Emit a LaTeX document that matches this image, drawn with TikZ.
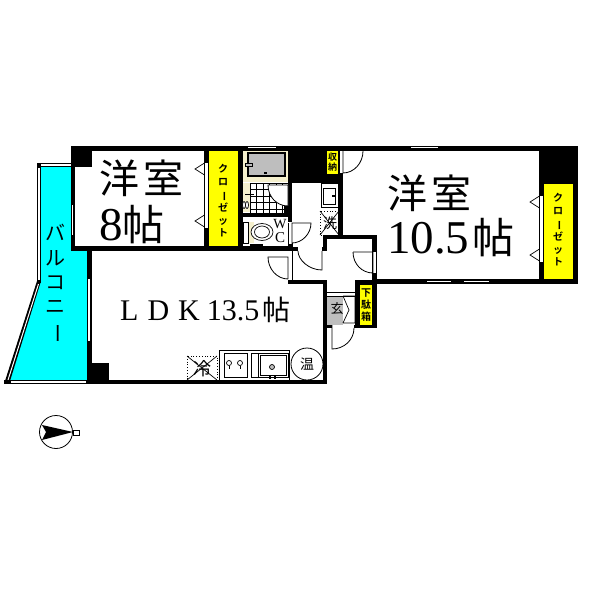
\documentclass[tikz,border=0pt]{standalone}
\usepackage{fontspec}
\setmainfont{Liberation Serif}
\newfontfamily\jpfont{Noto Sans CJK JP}
\newfontfamily\jpbold{Noto Sans CJK JP Bold}
\definecolor{balcony}{RGB}{0,255,255}
\definecolor{closet}{RGB}{255,255,0}
\definecolor{cream}{RGB}{245,240,205}
\definecolor{floorgray}{RGB}{190,190,190}
\tikzset{
	wall/.style={fill=black,draw=none},
	slit/.style={fill=white,draw=none},
	doorline/.style={line width=0.8},
	thin line/.style={line width=0.7},
	bigtext/.style={font=\jpfont\fontsize{40}{40}\selectfont,inner sep=0},
	smalltext/.style={font=\jpbold\fontsize{9}{10}\selectfont,align=center,inner sep=0},
}
\newcommand{\tatebar}{\rotatebox[origin=c]{-90}{ー}}
\begin{document}
\begin{tikzpicture}[x=1pt,y=-1pt]
	\useasboundingbox (0,0) rectangle (600,600);
	\fill[white] (0,0) rectangle (600,600);
	% balcony
	\fill[balcony] (41,167) -- (71,167) -- (71,246) -- (87,246) -- (87,380) -- (10,380) -- (40,282) -- cycle;
	\fill[black] (37,163) rectangle (71,167);
	\fill[white] (41,164) rectangle (71,166);
	\fill[black] (37,163) rectangle (41,283);
	\fill[white] (38,168) rectangle (40,280);
	\fill[black] (37,281) -- (41,281) -- (10,381) -- (5,381) -- cycle;
	\draw[white,line width=1] (38.5,284) -- (8,380);
	\fill[black] (4,380) rectangle (87,384);
	\fill[white] (11,381) rectangle (86,383);
	% outer walls
	\fill[wall] (71,146) rectangle (578,151);
	\fill[wall] (71,146) rectangle (75,251);
	\fill[wall] (71,146) rectangle (92,167);
	\fill[wall] (71,246) rectangle (293,251);
	\fill[wall] (87,246) rectangle (92,384);
	\fill[wall] (87,363) rectangle (109,384);
	\fill[wall] (87,380) rectangle (326,384);
	\fill[wall] (323,280) rectangle (327,384);
	\fill[wall] (288,280) rectangle (327,284);
	\fill[wall] (292,247) rectangle (327,251);
	\fill[wall] (323,235) rectangle (327,251);
	\fill[wall] (323,235) rectangle (377,239);
	\fill[wall] (372,235) rectangle (377,328);
	\fill[wall] (355,280) rectangle (377,285);
	\fill[wall] (355,280) rectangle (360,328);
	\fill[wall] (323,325) rectangle (377,328);
	\fill[wall] (372,279) rectangle (578,284);
	\fill[wall] (573,146) rectangle (578,284);
	\fill[wall] (539,146) rectangle (578,184);
	\fill[wall] (539,184) rectangle (544,279);
	% inner walls
	\fill[wall] (204,146) rectangle (209,251);
	\fill[wall] (238,146) rectangle (243,251);
	\fill[wall] (288,146) rectangle (343,183);
	\fill[wall] (288,183) rectangle (292,222);
	\fill[wall] (338,183) rectangle (343,235);
	\fill[wall] (243,213) rectangle (292,217);
	\fill[wall] (288,243) rectangle (293,251);
	% closets
	\fill[closet] (209,151) rectangle (238,246);
	\fill[closet] (544,184) rectangle (573,279);
	\fill[closet] (327,151) rectangle (338,174);
	\fill[closet] (360,285) rectangle (372,325);
	% bath
	\fill[cream] (243,151) rectangle (288,182);
	\fill[wall] (247,152) rectangle (286,177);
	\fill[floorgray] (249,154) rectangle (284,175);
	\fill[black] (264,172) rectangle (267,174);
	\draw[thin line,fill=floorgray] (245,163) rectangle (252,166);
	% wash room
	\fill[cream] (243,183) rectangle (250,212);
	\fill[white] (250,183) rectangle (288,213);
	\foreach \tilex in {250,256.5,...,288}
		\draw[thin line] (\tilex,183) -- (\tilex,213);
	\foreach \tiley in {183,189.5,...,213}
		\draw[thin line] (250,\tiley) -- (288,\tiley);
	\draw[thin line] (245,194) -- (254,194);
	\draw[thin line,fill=white] (244,205) ellipse (1.5 and 3.5);
	\draw[thin line,fill=white] (247,205) ellipse (1.5 and 3.5);
	\draw[doorline,fill=white] (288,185) -- (268,185) .. controls (268,197) and (277,206) .. (288,206) -- cycle;
	\fill[black] (284,206) rectangle (292,213);
	% toilet
	\fill[cream] (248,222) rectangle (254,243);
	\draw[thin line] (243.5,222) rectangle (248,243);
	\draw[thin line,fill=white] (262,232) ellipse (11 and 8.5);
	\draw[thin line] (262,232) ellipse (7.5 and 6);
	\fill[black] (250,244) rectangle (263,246);
	\node[font=\fontsize{14}{14}\selectfont,inner sep=0] (wlabel) at (280,224) {W};
	\node[font=\fontsize{15}{15}\selectfont,inner sep=0] (clabel) at (280,238) {C};
	% wash stand and laundry
	\draw[line width=1] (321,183) rectangle (338,207);
	\draw[line width=1] (323,188) rectangle (335,204);
	\fill[black] (332,195) rectangle (336,197);
	\draw[dotted,line width=0.8] (320,211) rectangle (339,235);
	\draw[thin line] (320,211) -- (339,235) (339,211) -- (320,235);
	\node[font=\jpfont\fontsize{14}{14}\selectfont,inner sep=0] (wash) at (330,223) {洗};
	% doors
	\fill[slit] (339,151) rectangle (343,173);
	\draw[doorline] (339,151) -- (339,173);
	\draw[doorline] (343,151) -- (343,173) .. controls (354,173) and (363,163) .. (363,151);
	\fill[slit] (288,223) rectangle (292,244);
	\draw[doorline] (288,223) -- (288,244);
	\draw[doorline] (292,244) -- (292,223) -- (311,223) .. controls (311,234) and (302,243) .. (292,243);
	\fill[slit] (288,251) rectangle (292,280);
	\draw[doorline] (288,279) -- (288,257) -- (268,257) .. controls (268,269) and (277,279) .. (288,279);
	\draw[doorline] (292,251) -- (292,280);
	\fill[slit] (298,247) rectangle (322,251);
	\draw[doorline] (322,251) -- (322,270) .. controls (309,270) and (298,260) .. (298,251);
	\fill[slit] (373,252) rectangle (376,273);
	\draw[doorline] (353,252) -- (373,252) -- (373,273) .. controls (362,273) and (353,264) .. (353,252);
	\draw[doorline] (376,252) -- (376,273);
	% entrance
	\fill[floorgray] (327,296) rectangle (343,325);
	\fill[white] (327,292) rectangle (355,296);
	\draw[thin line] (327,292) -- (355,292) (327,296) -- (355,296);
	\draw[thin line] (343,296) -- (355,296) -- (355,323) -- (343,323) (343,296) -- (349,310) -- (343,323);
	\fill[slit] (332,325) rectangle (354,328);
	\draw[doorline] (354,328) .. controls (354,340) and (344,349) .. (332,349) -- (332,325);
	\node[font=\jpfont\fontsize{13}{13}\selectfont,inner sep=0] (genkan) at (337,309) {玄};
	% closet doors
	\fill[slit] (205,163) rectangle (208,228);
	\fill[slit] (540,196) rectangle (543,262);
	\draw[thin line] (204.5,163) -- (195,169) -- (204.5,175) (204.5,215) -- (195,221) -- (204.5,227);
	\draw[thin line] (539.5,196) -- (530,202) -- (539.5,208) (539.5,249) -- (530,255) -- (539.5,261);
	% windows
	\fill[slit] (248,146.5) rectangle (276,147.5);
	\fill[slit] (411,146.5) rectangle (438,147.5);
	\fill[slit] (427,281) rectangle (451,282);
	\fill[slit] (464,281) rectangle (489,282);
	\fill[slit] (72,205) rectangle (73,235);
	\fill[slit] (88,279) rectangle (90,341);
	% kitchen
	\draw[dotted,line width=0.8] (187,356) rectangle (217,380);
	\draw[thin line] (187,356) -- (217,380) (217,356) -- (187,380);
	\node[font=\jpfont\fontsize{18}{18}\selectfont,inner sep=0] (fridge) at (202,369) {冷};
	\draw[thin line] (219,350) rectangle (289,380);
	\draw[thin line] (224,353) rectangle (247,377);
	\draw[thin line] (229,363) circle (2.5);
	\draw[thin line] (240,363) circle (2.5);
	\draw[thin line] (229,365.5) -- (229,369) (240,365.5) -- (240,369);
	\draw[thin line] (251,353) rectangle (288,377);
	\draw[thin line] (258,353) -- (258,377);
	\draw[line width=1] (260,355) rectangle (286,375);
	\draw[thin line,fill=floorgray] (272,367) circle (2.5);
	\fill[black] (269,376) rectangle (271,379);
	\fill[black] (274,376) rectangle (276,379);
	\node[draw,circle,line width=0.8,minimum size=32,inner sep=0,font=\jpfont\fontsize{14}{14}\selectfont] (heater) at (307,364) {温};
	% room labels
	\node[bigtext] (roomA) at (141,178) {洋\hspace{4pt}室};
	\node[inner sep=0,anchor=west] (areaA) at (99,225) {\fontsize{47}{47}\selectfont 8\jpfont\fontsize{42}{42}\selectfont 帖};
	\node[bigtext] (roomB) at (429,193) {洋\hspace{4pt}室};
	\node[inner sep=0,anchor=west] (areaB) at (387,238) {\fontsize{47}{47}\selectfont 10.5\hspace{3pt}\jpfont\fontsize{42}{42}\selectfont 帖};
	\node[inner sep=0,anchor=west,font=\fontsize{30}{30}\selectfont] (areaC) at (120,310) {L\hspace{9pt}D\hspace{9pt}K\hspace{7pt}13.5\hspace{3pt}\jpfont\fontsize{28}{28}\selectfont 帖};
	% vertical labels
	\node[font=\jpfont\fontsize{20}{24.3}\selectfont,align=center,inner sep=0] (balc) at (55,284) {バ\\ル\\コ\\ニ\\\tatebar};
	\node[smalltext,font=\jpbold\fontsize{10}{12.8}\selectfont] (closetA) at (223,201) {ク\\ロ\\\tatebar\\ゼ\\ッ\\ト};
	\node[smalltext,font=\jpbold\fontsize{10}{12.8}\selectfont] (closetB) at (558,230) {ク\\ロ\\\tatebar\\ゼ\\ッ\\ト};
	\node[smalltext] (storage) at (332.5,162.5) {収\\納};
	\node[smalltext,font=\jpbold\fontsize{10}{12}\selectfont] (shoes) at (366,305) {下\\駄\\箱};
	% north mark
	\draw[line width=0.8] (56,432) circle (16.5);
	\fill[black] (73,432) -- (42,425) -- (46,432) -- (42,440) -- cycle;
	\draw[line width=1] (73,430) rectangle (79,435);
\end{tikzpicture}
\end{document}
